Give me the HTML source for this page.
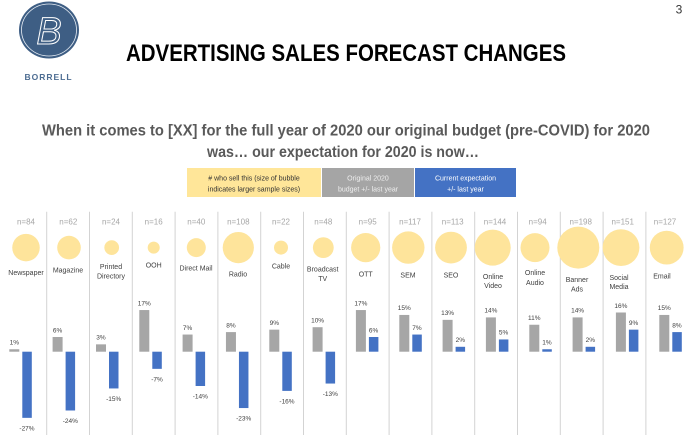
<!DOCTYPE html>
<html><head><meta charset="utf-8"><style>
html,body{margin:0;padding:0;background:#fff;}
svg{display:block;}
text{font-family:"Liberation Sans",sans-serif;}
</style></head><body>
<svg width="689" height="447" viewBox="0 0 689 447" xmlns="http://www.w3.org/2000/svg">
<rect width="689" height="447" fill="#fff"/>
<!-- logo -->
<ellipse cx="49" cy="30" rx="30" ry="28.5" fill="#3e5e84"/>
<ellipse cx="49" cy="30" rx="27.5" ry="26" fill="none" stroke="#e8eef5" stroke-width="0.8"/>
<text x="49" y="44" text-anchor="middle" font-family="Liberation Serif" font-style="italic" font-size="38" fill="none" stroke="#fff" stroke-width="1">B</text>
<text x="48.5" y="80" text-anchor="middle" font-size="8.5" font-weight="bold" fill="#4d6d92" letter-spacing="1">BORRELL</text>
<!-- page number -->
<text x="679" y="13.5" text-anchor="middle" font-size="12" fill="#333">3</text>
<!-- title -->
<text x="126" y="61" font-size="24" font-weight="bold" fill="#000" textLength="440" lengthAdjust="spacingAndGlyphs">ADVERTISING SALES FORECAST CHANGES</text>
<!-- subtitle -->
<text x="42" y="135.5" font-size="15.5" font-weight="bold" fill="#595959" textLength="608" lengthAdjust="spacingAndGlyphs">When it comes to [XX] for the full year of 2020 our original budget (pre-COVID) for 2020</text>
<text x="207" y="157" font-size="15.5" font-weight="bold" fill="#595959" textLength="272" lengthAdjust="spacingAndGlyphs">was… our expectation for 2020 is now…</text>
<!-- legend -->
<rect x="187" y="168" width="134" height="29" fill="#ffe699"/>
<rect x="322" y="168" width="92" height="29" fill="#a5a5a5"/>
<rect x="415" y="168" width="101" height="29" fill="#4472c4"/>
<g font-size="7" text-anchor="middle">
<text x="254" y="180.5" fill="#333">#  who sell this (size of bubble</text>
<text x="254" y="191.5" fill="#333">indicates larger sample sizes)</text>
<text x="368" y="180.5" fill="#eee">Original 2020</text>
<text x="368" y="191.5" fill="#eee">budget +/- last year</text>
<text x="465.5" y="180.5" fill="#fff">Current expectation</text>
<text x="465.5" y="191.5" fill="#fff">+/- last year</text>
</g>
<!-- separators -->
<g stroke="#d3d3d3" stroke-width="1">
<line x1="46.7" y1="211.7" x2="46.7" y2="435"/>
<line x1="89.5" y1="211.7" x2="89.5" y2="435"/>
<line x1="132.3" y1="211.7" x2="132.3" y2="435"/>
<line x1="175.1" y1="211.7" x2="175.1" y2="435"/>
<line x1="217.9" y1="211.7" x2="217.9" y2="435"/>
<line x1="260.7" y1="211.7" x2="260.7" y2="435"/>
<line x1="303.5" y1="211.7" x2="303.5" y2="435"/>
<line x1="346.3" y1="211.7" x2="346.3" y2="435"/>
<line x1="389.1" y1="211.7" x2="389.1" y2="435"/>
<line x1="431.9" y1="211.7" x2="431.9" y2="435"/>
<line x1="474.7" y1="211.7" x2="474.7" y2="435"/>
<line x1="517.5" y1="211.7" x2="517.5" y2="435"/>
<line x1="560.3" y1="211.7" x2="560.3" y2="435"/>
<line x1="603.1" y1="211.7" x2="603.1" y2="435"/>
<line x1="645.9" y1="211.7" x2="645.9" y2="435"/>
</g>
<!-- n labels -->
<g font-size="8" fill="#a6a6a6" text-anchor="middle">
<text x="26" y="224.5">n=84</text>
<text x="68.3" y="224.5">n=62</text>
<text x="111" y="224.5">n=24</text>
<text x="153.7" y="224.5">n=16</text>
<text x="196.3" y="224.5">n=40</text>
<text x="238.3" y="224.5">n=108</text>
<text x="281" y="224.5">n=22</text>
<text x="323.3" y="224.5">n=48</text>
<text x="367.7" y="224.5">n=95</text>
<text x="410" y="224.5">n=117</text>
<text x="452.7" y="224.5">n=113</text>
<text x="495" y="224.5">n=144</text>
<text x="537.7" y="224.5">n=94</text>
<text x="580.7" y="224.5">n=198</text>
<text x="622.7" y="224.5">n=151</text>
<text x="665" y="224.5">n=127</text>
</g>
<!-- bubbles -->
<g fill="#fee49b">
<circle cx="26" cy="247.6" r="13.75"/>
<circle cx="69" cy="247.6" r="11.8"/>
<circle cx="111.7" cy="247.6" r="7.35"/>
<circle cx="153.7" cy="247.6" r="6"/>
<circle cx="196.3" cy="247.6" r="9.5"/>
<circle cx="238.3" cy="247.6" r="15.6"/>
<circle cx="281" cy="247.6" r="7"/>
<circle cx="323.3" cy="247.6" r="10.4"/>
<circle cx="365.7" cy="247.6" r="14.6"/>
<circle cx="408.3" cy="247.6" r="16.2"/>
<circle cx="451" cy="247.6" r="15.9"/>
<circle cx="492.7" cy="247.6" r="18"/>
<circle cx="535" cy="247.6" r="14.5"/>
<circle cx="578.3" cy="247.6" r="21"/>
<circle cx="621" cy="247.6" r="18.4"/>
<circle cx="666.7" cy="247.6" r="16.9"/>
</g>
<!-- category labels -->
<g font-size="7" fill="#404040" text-anchor="middle">
<text x="26" y="275.2">Newspaper</text>
<text x="68" y="272.5">Magazine</text>
<text x="111" y="269.2">Printed</text>
<text x="111" y="278.5">Directory</text>
<text x="153.7" y="267.5">OOH</text>
<text x="196" y="270.5">Direct Mail</text>
<text x="238" y="276.5">Radio</text>
<text x="281" y="268.5">Cable</text>
<text x="322.7" y="271.5">Broadcast</text>
<text x="322.7" y="281.2">TV</text>
<text x="365.7" y="276.5">OTT</text>
<text x="408" y="277.5">SEM</text>
<text x="451" y="277.5">SEO</text>
<text x="493" y="279.2">Online</text>
<text x="493" y="288.2">Video</text>
<text x="535" y="275.2">Online</text>
<text x="535" y="284.8">Audio</text>
<text x="577" y="281.8">Banner</text>
<text x="577" y="291.5">Ads</text>
<text x="619" y="279.8">Social</text>
<text x="619" y="289.2">Media</text>
<text x="662" y="278.5">Email</text>
</g>
<!-- gray bars (zero y=351.7, 2.45px per %) -->
<g fill="#a6a6a6">
<rect x="9.3" y="349.25" width="10" height="2.45"/>
<rect x="52.6" y="337.0" width="10" height="14.7"/>
<rect x="96.0" y="344.35" width="10" height="7.35"/>
<rect x="139.3" y="310.05" width="10" height="41.65"/>
<rect x="182.6" y="334.55" width="10" height="17.15"/>
<rect x="225.95" y="332.1" width="10" height="19.6"/>
<rect x="269.3" y="329.65" width="10" height="22.05"/>
<rect x="312.6" y="327.2" width="10" height="24.5"/>
<rect x="355.9" y="310.05" width="10" height="41.65"/>
<rect x="399.3" y="314.95" width="10" height="36.75"/>
<rect x="442.6" y="319.85" width="10" height="31.85"/>
<rect x="485.9" y="317.4" width="10" height="34.3"/>
<rect x="529.3" y="324.75" width="10" height="26.95"/>
<rect x="572.6" y="317.4" width="10" height="34.3"/>
<rect x="615.9" y="312.5" width="10" height="39.2"/>
<rect x="659.3" y="314.95" width="10" height="36.75"/>
</g>
<!-- blue bars -->
<g fill="#4472c4">
<rect x="22.3" y="351.7" width="9.5" height="66.15"/>
<rect x="65.6" y="351.7" width="9.5" height="58.8"/>
<rect x="109.0" y="351.7" width="9.5" height="36.75"/>
<rect x="152.3" y="351.7" width="9.5" height="17.15"/>
<rect x="195.6" y="351.7" width="9.5" height="34.3"/>
<rect x="238.95" y="351.7" width="9.5" height="56.35"/>
<rect x="282.3" y="351.7" width="9.5" height="39.2"/>
<rect x="325.6" y="351.7" width="9.5" height="31.85"/>
<rect x="368.9" y="337.0" width="9.5" height="14.7"/>
<rect x="412.3" y="334.55" width="9.5" height="17.15"/>
<rect x="455.6" y="346.8" width="9.5" height="4.9"/>
<rect x="498.9" y="339.45" width="9.5" height="12.25"/>
<rect x="542.3" y="349.25" width="9.5" height="2.45"/>
<rect x="585.6" y="346.8" width="9.5" height="4.9"/>
<rect x="628.9" y="329.65" width="9.5" height="22.05"/>
<rect x="672.3" y="332.1" width="9.5" height="19.6"/>
</g>
<!-- value labels -->
<g font-size="6.5" fill="#404040" text-anchor="middle">
<text x="14.3" y="344.5">1%</text>
<text x="57.6" y="332.3">6%</text>
<text x="101" y="339.6">3%</text>
<text x="144.3" y="305.3">17%</text>
<text x="187.6" y="329.8">7%</text>
<text x="231" y="327.4">8%</text>
<text x="274.3" y="324.9">9%</text>
<text x="317.6" y="322.5">10%</text>
<text x="360.9" y="305.3">17%</text>
<text x="404.3" y="310.2">15%</text>
<text x="447.6" y="315.1">13%</text>
<text x="490.9" y="312.7">14%</text>
<text x="534.3" y="320">11%</text>
<text x="577.6" y="312.7">14%</text>
<text x="620.9" y="307.8">16%</text>
<text x="664.3" y="310.2">15%</text>

<text x="27" y="430.3">-27%</text>
<text x="70.3" y="423">-24%</text>
<text x="113.7" y="401">-15%</text>
<text x="157" y="381.4">-7%</text>
<text x="200.3" y="398.5">-14%</text>
<text x="243.7" y="420.6">-23%</text>
<text x="287" y="403.4">-16%</text>
<text x="330.3" y="396.1">-13%</text>
<text x="373.6" y="332.3">6%</text>
<text x="417" y="329.8">7%</text>
<text x="460.3" y="342.1">2%</text>
<text x="503.6" y="334.7">5%</text>
<text x="547" y="344.5">1%</text>
<text x="590.3" y="342.1">2%</text>
<text x="633.6" y="324.9">9%</text>
<text x="677" y="327.4">8%</text>
</g>
</svg>
</body></html>
